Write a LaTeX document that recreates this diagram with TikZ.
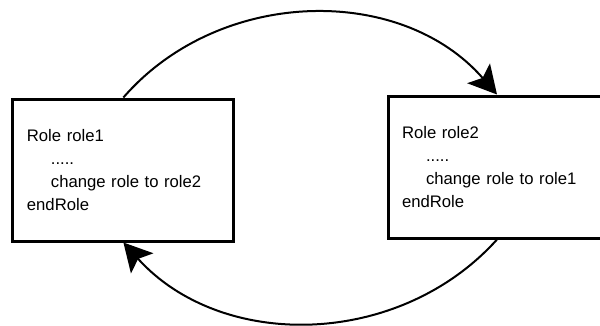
\documentclass[tikz,border=0pt]{standalone}
\usepackage{fontspec}
\setmainfont{Liberation Sans}
\usetikzlibrary{arrows.meta}

\begin{document}
\begin{tikzpicture}[x=1pt,y=-1pt,
  rolebox/.style={draw=black, line width=3pt, fill=white,
    minimum width=#1, minimum height=142pt,
    inner xsep=14pt, text width=#1-28pt, align=left,
    font=\fontsize{16.7}{23.3}\selectfont},
  switch/.style={line width=2pt,
    -{Stealth[length=28pt,width=30pt,inset=6pt]}}]
  \useasboundingbox (0,0) rectangle (600,325);

  % the two role blocks
  \node[rolebox=221pt] (L) at (123.4,170)
    {Role role1\\
     \hspace*{24pt}.....\\
     \hspace*{24pt}change role to role2\\
     endRole};
  \node[rolebox=218pt] (R) at (497,167)
    {Role role2\\
     \hspace*{24pt}.....\\
     \hspace*{24pt}change role to role1\\
     endRole};

  % role switches
  \draw[switch] (L.north) to[out=49,in=131] (R.north);
  \draw[switch] (R.south) to[out=228,in=-48] (L.south);
\end{tikzpicture}
\end{document}
